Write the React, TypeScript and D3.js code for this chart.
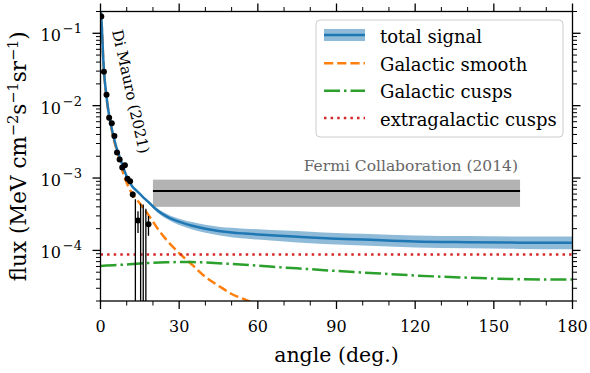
import React from 'react';
import * as d3 from 'd3';

// ---------------- data ----------------
const gridAngles = [0, 0.5, 1, 1.5, 2, 3, 4, 5, 6, 7, 8, 10, 12, 14, 16, 18, 20, 22, 25, 28, 31, 35, 40, 45, 50, 55, 60, 70, 80, 90, 100, 120, 140, 160, 180];
const totalSignal = [0.22, 0.125, 0.048, 0.025, 0.0165, 0.0085, 0.0054, 0.0037, 0.0027, 0.0021, 0.00165, 0.00105, 7.75e-4, 6.55e-4, 5.55e-4, 4.75e-4, 4.05e-4, 3.5e-4, 2.98e-4, 2.64e-4, 2.42e-4, 2.19e-4, 1.99e-4, 1.86e-4, 1.77e-4, 1.71e-4, 1.66e-4, 1.58e-4, 1.51e-4, 1.45e-4, 1.41e-4, 1.33e-4, 1.30e-4, 1.28e-4, 1.275e-4];
const totalHigh = [0.222, 0.126, 0.0484, 0.0252, 0.0167, 0.0086, 0.00545, 0.00374, 0.00273, 0.00212, 0.00167, 0.00106, 7.9e-4, 6.72e-4, 5.74e-4, 4.97e-4, 4.29e-4, 3.74e-4, 3.23e-4, 2.89e-4, 2.68e-4, 2.46e-4, 2.26e-4, 2.13e-4, 2.05e-4, 2.0e-4, 1.96e-4, 1.88e-4, 1.81e-4, 1.74e-4, 1.70e-4, 1.61e-4, 1.58e-4, 1.56e-4, 1.56e-4];
const totalLow = [0.218, 0.124, 0.0476, 0.0248, 0.0163, 0.0084, 0.00535, 0.00366, 0.00267, 0.00208, 0.00163, 0.00104, 7.61e-4, 6.39e-4, 5.36e-4, 4.54e-4, 3.82e-4, 3.27e-4, 2.75e-4, 2.41e-4, 2.18e-4, 1.95e-4, 1.75e-4, 1.62e-4, 1.52e-4, 1.46e-4, 1.41e-4, 1.33e-4, 1.26e-4, 1.21e-4, 1.17e-4, 1.10e-4, 1.07e-4, 1.05e-4, 1.04e-4];

const smoothAngles = [0, 0.5, 1, 1.5, 2, 3, 4, 5, 6, 7, 8, 10, 12, 14, 16, 18, 20, 22, 25, 28, 31, 35, 40, 45, 50, 55, 60, 70];
const galacticSmooth = [0.22, 0.124, 0.0475, 0.0245, 0.0162, 0.0083, 0.0052, 0.0035, 0.00255, 0.00195, 0.0014, 8.6e-4, 6.1e-4, 4.95e-4, 4.0e-4, 3.2e-4, 2.5e-4, 1.95e-4, 1.42e-4, 1.08e-4, 8.5e-5, 6.3e-5, 4.3e-5, 3.25e-5, 2.5e-5, 2.1e-5, 1.75e-5, 1.2e-5];

const cuspAngles = [0, 5, 10, 15, 20, 25, 30, 35, 40, 50, 60, 70, 80, 90, 100, 120, 140, 160, 180];
const galacticCusps = [6.1e-5, 6.25e-5, 6.4e-5, 6.6e-5, 6.75e-5, 6.85e-5, 6.9e-5, 6.9e-5, 6.8e-5, 6.5e-5, 6.15e-5, 5.8e-5, 5.5e-5, 5.2e-5, 4.95e-5, 4.5e-5, 4.2e-5, 4.0e-5, 3.95e-5];

const egAngles = [0, 180];
const extragalacticCusps = [8.8e-5, 8.8e-5];

const fermiAngles = [20, 160];
const fermiFlux = 6.6e-4;
const fermiLow = 4.0e-4;
const fermiHigh = 9.5e-4;

const dataAngles = [0.3, 1.3, 2.3, 3.3, 4.3, 5.3, 6.3, 7.3, 8.3, 9.3, 10.3, 11.3, 12.3, 13.3, 14.3, 15.3, 16.3, 17.3, 18.3];
const dataFlux = [0.17, 0.0295, 0.0141, 0.0068, 0.0057, 0.0038, 0.00225, 0.0018, 0.0014, 0.0015, 0.00098, 0.0009, 0.00059, null, 0.00026, null, null, null, 0.00023];
const dataErrLow = [0.165, 0.0285, 0.0136, 0.0065, 0.0054, 0.0036, 0.00212, 0.0017, 0.00131, 0.0014, 0.00091, 0.00083, 0.00053, 0, 0.000174, 0, 0, 0, 0.00016];
const dataErrHigh = [0.175, 0.0305, 0.0146, 0.0071, 0.006, 0.004, 0.00238, 0.0019, 0.0015, 0.0016, 0.00105, 0.00097, 0.00065, 0.00051, 0.000347, 0.00044, 0.00043, 0.000375, 0.0003];

const xTicks = [0, 30, 60, 90, 120, 150, 180];
const xMinorTicks = [10, 20, 40, 50, 70, 80, 100, 110, 130, 140, 160, 170];
const yTickExponents = [-4, -3, -2, -1];

const legendLabels = ['total signal', 'Galactic smooth', 'Galactic cusps', 'extragalactic cusps'];

// ---------------- style ----------------
const FONT = 'DejaVu Serif';
const BLUE = '#1f77b4';
const ORANGE = '#ff7f0e';
const GREEN = '#2ca02c';
const RED = '#d62728';

const W = 590, H = 373;
const L = 100.5, R = 572.5, T = 11.5, B = 301;

export default function App() {
  const x = d3.scaleLinear().domain([0, 180]).range([L, R]);
  const y = d3.scaleLog().domain([2e-5, 0.2]).range([B, T]);

  const line = d3.line<[number, number]>()
    .x(d => x(d[0]))
    .y(d => y(d[1]))
    .curve(d3.curveMonotoneX);

  const band = d3.area<number>()
    .x((_, i) => x(gridAngles[i]))
    .y0((_, i) => y(totalLow[i]))
    .y1((_, i) => y(totalHigh[i]))
    .curve(d3.curveMonotoneX);

  const zip = (a: number[], b: number[]) => a.map((v, i) => [v, b[i]] as [number, number]);

  const yMinor: number[] = [];
  for (let e = -5; e <= -1; e++) {
    for (let m = 2; m <= 9; m++) {
      const v = m * Math.pow(10, e);
      if (v >= 2e-5 - 1e-12 && v <= 0.2 + 1e-12) yMinor.push(v);
    }
  }

  const legendY = [35, 63.3, 90.7, 118];
  const hx0 = 324, hx1 = 365;

  return (
    <svg width={W} height={H} style={{ position: 'absolute', left: 0, top: 0, background: '#fff' }} fontFamily={FONT}>
      <defs>
        <clipPath id="plotclip">
          <rect x={L} y={T} width={R - L} height={B - T} />
        </clipPath>
      </defs>
      <rect x={0} y={0} width={W} height={H} fill="#fff" />

      <g clipPath="url(#plotclip)">
        {/* Fermi */}
        <rect x={x(fermiAngles[0])} y={y(fermiHigh)} width={x(fermiAngles[1]) - x(fermiAngles[0])}
          height={y(fermiLow) - y(fermiHigh)} fill="#808080" fillOpacity={0.6} />
        <line x1={x(fermiAngles[0])} x2={x(fermiAngles[1])} y1={y(fermiFlux)} y2={y(fermiFlux)} stroke="#000" strokeWidth={2} />

        {/* components */}
        <path d={line(zip(smoothAngles, galacticSmooth)) || ''} fill="none" stroke={ORANGE} strokeWidth={2.5} strokeDasharray="9.2 4" />
        <path d={line(zip(cuspAngles, galacticCusps)) || ''} fill="none" stroke={GREEN} strokeWidth={2.5} strokeDasharray="16 4 2.5 4" />
        <path d={line(zip(egAngles, extragalacticCusps)) || ''} fill="none" stroke={RED} strokeWidth={2.5} strokeDasharray="2.5 4.1" />

        {/* total band + line */}
        <path d={band(totalSignal) || ''} fill={BLUE} fillOpacity={0.5} />
        <path d={line(zip(gridAngles, totalSignal)) || ''} fill="none" stroke={BLUE} strokeWidth={2.5} />

        {/* data */}
        {dataAngles.map((a, i) => {
          const lo = dataErrLow[i] > 0 ? y(dataErrLow[i]) : B + 2;
          const hi = y(dataErrHigh[i]);
          return <line key={'e' + i} x1={x(a)} x2={x(a)} y1={lo} y2={hi} stroke="#000" strokeWidth={1.3} />;
        })}
        {dataAngles.map((a, i) => dataFlux[i] == null ? null : (
          <circle key={'p' + i} cx={x(a)} cy={y(dataFlux[i] as number)} r={3} fill="#000" />
        ))}
      </g>

      {/* annotations */}
      <text x={518} y={171} textAnchor="end" fontSize={15.5} fill="#666">Fermi Collaboration (2014)</text>
      <text transform="translate(112,31) rotate(77.5)" fontSize={15} fill="#000">Di Mauro (2021)</text>

      {/* frame */}
      <rect x={L} y={T} width={R - L} height={B - T} fill="none" stroke="#000" strokeWidth={1.3} />

      {/* x ticks */}
      {xTicks.map(t => (
        <g key={'xt' + t}>
          <line x1={x(t)} x2={x(t)} y1={B} y2={B + 8} stroke="#000" strokeWidth={1.3} />
          <line x1={x(t)} x2={x(t)} y1={T} y2={T - 8} stroke="#000" strokeWidth={1.3} />
          <text x={x(t)} y={332} textAnchor="middle" fontSize={16}>{t}</text>
        </g>
      ))}
      {xMinorTicks.map(t => (
        <g key={'xm' + t}>
          <line x1={x(t)} x2={x(t)} y1={B} y2={B + 4.5} stroke="#000" strokeWidth={1} />
          <line x1={x(t)} x2={x(t)} y1={T} y2={T - 4.5} stroke="#000" strokeWidth={1} />
        </g>
      ))}

      {/* y ticks */}
      {yTickExponents.map(e => {
        const v = Math.pow(10, e);
        return (
          <g key={'yt' + e}>
            <line x1={L} x2={L - 8} y1={y(v)} y2={y(v)} stroke="#000" strokeWidth={1.3} />
            <line x1={R} x2={R + 8} y1={y(v)} y2={y(v)} stroke="#000" strokeWidth={1.3} />
            <text x={82} y={y(v) + 8} textAnchor="end" fontSize={16}>10<tspan dx={2} dy={-8} fontSize={13}>{'\u2212' + Math.abs(e)}</tspan></text>
          </g>
        );
      })}
      {yMinor.map((v, i) => (
        <g key={'ym' + i}>
          <line x1={L} x2={L - 4.5} y1={y(v)} y2={y(v)} stroke="#000" strokeWidth={1} />
          <line x1={R} x2={R + 4.5} y1={y(v)} y2={y(v)} stroke="#000" strokeWidth={1} />
        </g>
      ))}

      {/* axis labels */}
      <text x={(L + R) / 2} y={362} textAnchor="middle" fontSize={20.5}>angle (deg.)</text>
      <text transform={`translate(26,${(T + B) / 2}) rotate(-90)`} textAnchor="middle" fontSize={21.5}>
        flux (MeV cm<tspan dy={-8} fontSize={14.5}>{'\u22122'}</tspan><tspan dy={8}>s</tspan><tspan dy={-8} fontSize={14.5}>{'\u22121'}</tspan><tspan dy={8}>sr</tspan><tspan dy={-8} fontSize={14.5}>{'\u22121'}</tspan><tspan dy={8}>)</tspan>
      </text>

      {/* legend */}
      <rect x={316} y={20} width={247} height={117} rx={4} fill="#fff" fillOpacity={0.8} stroke="#cccccc" strokeWidth={1} />
      <rect x={hx0} y={legendY[0] - 6} width={hx1 - hx0} height={12} fill={BLUE} fillOpacity={0.5} />
      <line x1={hx0} x2={hx1} y1={legendY[0]} y2={legendY[0]} stroke={BLUE} strokeWidth={2.5} />
      <line x1={hx0} x2={hx1} y1={legendY[1]} y2={legendY[1]} stroke={ORANGE} strokeWidth={2.5} strokeDasharray="9.2 4" />
      <line x1={hx0} x2={hx1} y1={legendY[2]} y2={legendY[2]} stroke={GREEN} strokeWidth={2.5} strokeDasharray="16 4 2.5 4" />
      <line x1={hx0} x2={hx1} y1={legendY[3]} y2={legendY[3]} stroke={RED} strokeWidth={2.5} strokeDasharray="2.5 4.1" />
      {legendLabels.map((lab, i) => (
        <text key={lab} x={380} y={legendY[i] + 7.5} fontSize={18}>{lab}</text>
      ))}
    </svg>
  );
}
